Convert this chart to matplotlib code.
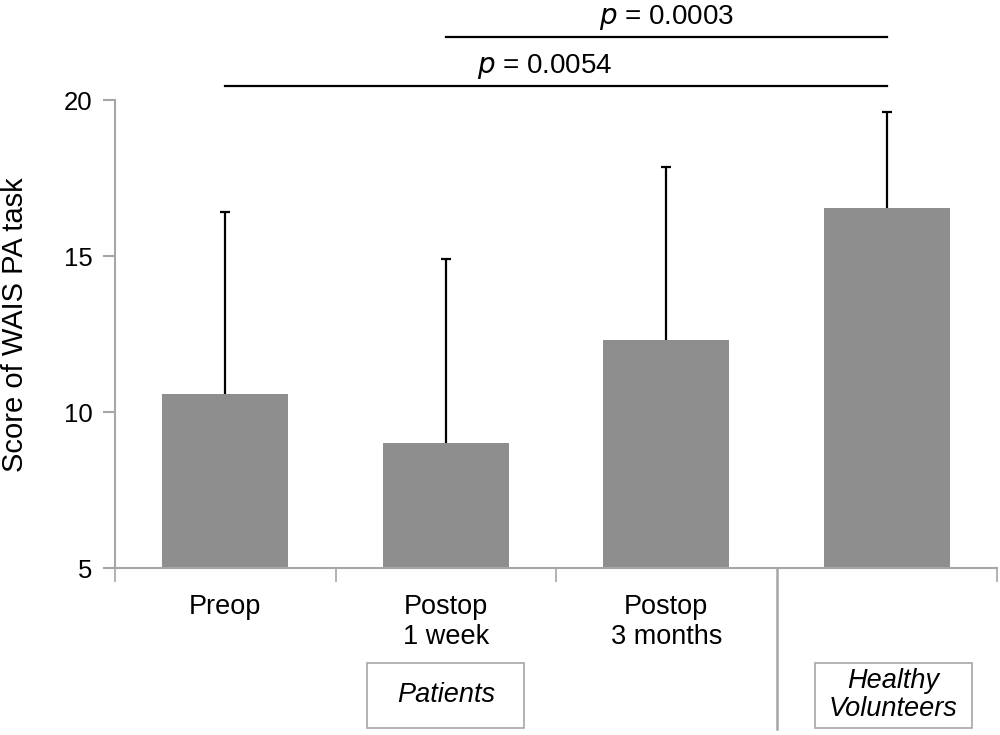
import matplotlib
matplotlib.use("Agg")
import matplotlib.pyplot as plt
import matplotlib.transforms as mtransforms
from matplotlib.patches import Rectangle

plt.rcParams["font.family"] = ["Liberation Sans", "DejaVu Sans"]

# data
categories = ["Preop", "Postop\n1 week", "Postop\n3 months", "Healthy Volunteers"]
means = [10.57, 9.0, 12.3, 16.55]
sd = [5.85, 5.9, 5.56, 3.06]
groups = ["Patients", "Healthy\nVolunteers"]
comparisons = [(0, 3, "0.0054"), (1, 3, "0.0003")]

GREY = "#a6a6a6"
BAR = "#8e8e8e"

fig = plt.figure(figsize=(10, 7.35), dpi=100)
ax = fig.add_axes([0.115, 0.2272, 0.882, 0.6367])

x = list(range(len(categories)))
ax.bar(x, means, width=0.57, color=BAR, zorder=2)
_, caps, _ = ax.errorbar(x, means, yerr=[[0] * len(sd), sd], fmt="none",
                         ecolor="black", elinewidth=1.6, capsize=3.6,
                         capthick=1.6, zorder=3, clip_on=False)
caps[0].set_visible(False)  # no cap at the bar top

ax.set_xlim(-0.5, 3.5)
ax.set_ylim(5, 20)
ax.set_yticks([5, 10, 15, 20])
ax.tick_params(axis="y", colors=GREY, labelcolor="black", labelsize=18.5,
               length=9, width=1.5, pad=7)
ax.set_xticks([-0.5, 0.5, 1.5, 3.5])
ax.set_xticklabels([])
ax.tick_params(axis="x", colors=GREY, length=10, width=1.2, direction="out")

for s in ["top", "right"]:
    ax.spines[s].set_visible(False)
ax.spines["left"].set_color(GREY)
ax.spines["left"].set_linewidth(1.5)
ax.spines["bottom"].set_color(GREY)
ax.spines["bottom"].set_linewidth(1.5)

ax.set_ylabel("Score of WAIS PA task", fontsize=21)
ax.yaxis.set_label_coords(-0.098, 0.52)

trans = mtransforms.blended_transform_factory(ax.transData, ax.transAxes)

# category labels (the last group is labelled by its box)
for xi, lab in zip(x[:3], categories[:3]):
    ax.text(xi, -0.056, lab, transform=trans, ha="center", va="top",
            fontsize=19.5, linespacing=1.18)

# divider between patients and volunteers
ax.plot([2.5, 2.5], [0, -0.345], transform=trans, color=GREY, lw=1.8,
        clip_on=False)

# group boxes
for cx_, lab in zip([1.0, 3.03], groups):
    ax.add_patch(Rectangle((cx_ - 0.356, -0.341), 0.712, 0.139,
                           transform=trans, facecolor="white",
                           edgecolor=GREY, lw=1.2, clip_on=False))
    ax.text(cx_, -0.2715, lab, transform=trans, ha="center", va="center",
            fontsize=19.5, style="italic", linespacing=1.12)

# significance lines
line_y = [20.45, 22.02]
for (a, b, p), ly in zip(comparisons, line_y):
    ax.plot([a, b], [ly, ly], color="black", lw=1.6, clip_on=False)
    ax.text((a + b) / 2 - (0.05 if a == 0 else 0), ly + 0.17,
            "$\\it{p}$ = " + p, ha="center", va="bottom", fontsize=20)

fig.savefig("out.png", dpi=100)
